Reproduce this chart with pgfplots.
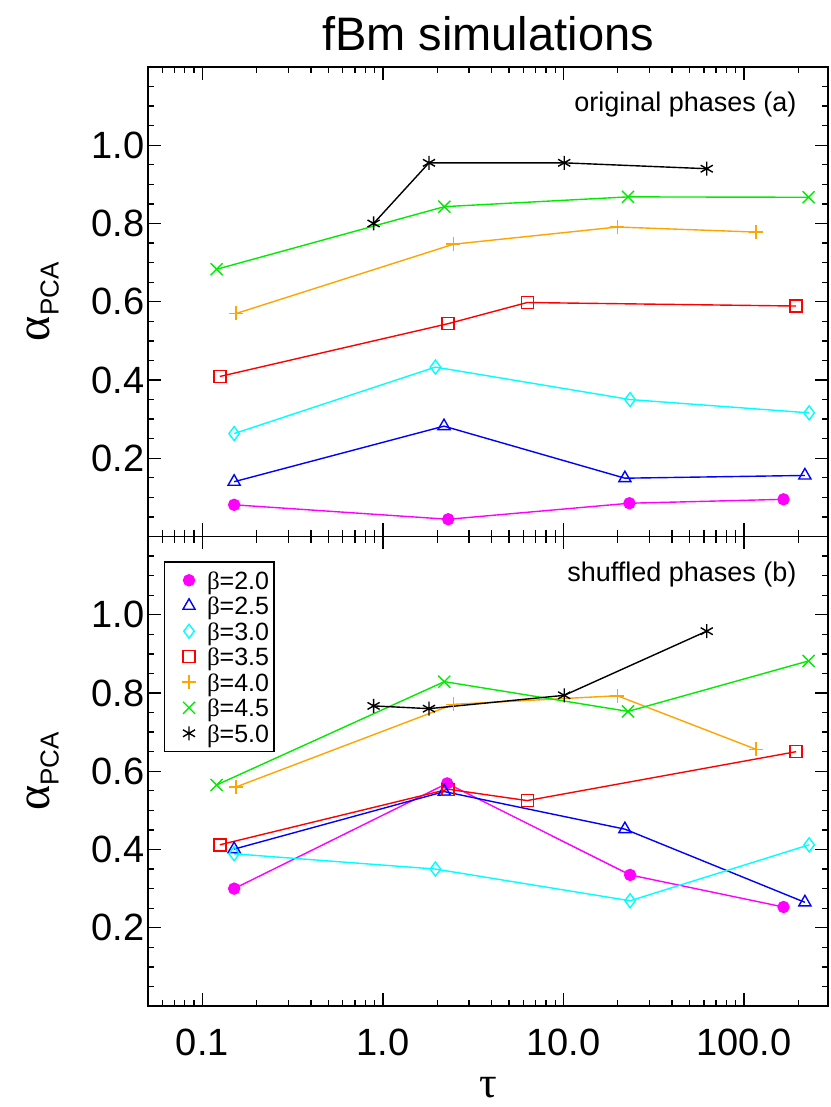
\documentclass[border=0pt]{standalone}
\usepackage{fontspec}
\setmainfont{Liberation Sans}
\newfontfamily\gr{Liberation Serif}
\usepackage{pgfplots}
\pgfplotsset{compat=1.18}
\definecolor{cMag}{RGB}{255,0,255}
\definecolor{cBlue}{RGB}{0,0,255}
\definecolor{cCyan}{RGB}{0,255,255}
\definecolor{cRed}{RGB}{255,0,0}
\definecolor{cOrange}{RGB}{255,165,0}
\definecolor{cGreen}{RGB}{0,235,0}

\begin{document}
\begin{tikzpicture}
\path[use as bounding box] (-148pt,-101pt) rectangle (682pt,1006pt);
\node[font=\fontsize{47}{47}\selectfont] at (340pt,972pt) {fBm simulations};

% top panel
\begin{axis}[
    at={(0pt,469.5pt)},
    scale only axis, width=680pt, height=469.5pt,
    xmode=log, xmin=0.05, xmax=292, ymin=0, ymax=1.2,
    xtick={0.1,1,10,100},
    xticklabels={},
    minor xtick={0.06,0.07,0.08,0.09,0.2,0.3,0.4,0.5,0.6,0.7,0.8,0.9,2,3,4,5,6,7,8,9,20,30,40,50,60,70,80,90,200},
    ytick={0.2,0.4,0.6,0.8,1.0},
    yticklabels={0.2,0.4,0.6,0.8,1.0},
    minor ytick={0.05,0.1,0.15,0.25,0.3,0.35,0.45,0.5,0.55,0.65,0.7,0.75,0.85,0.9,0.95,1.05,1.1,1.15},
    tick align=inside, major tick length=13pt, minor tick length=6.5pt,
    axis line style={line width=1.6pt},
    tick style={black, line width=1.3pt},
    tick label style={font=\fontsize{38}{38}\selectfont},
    ylabel style={at={(axis description cs:-0.1544,0.5)}, anchor=center},
    ylabel={{\gr\fontsize{48}{48}\selectfont α}\raisebox{-9pt}{\fontsize{26}{26}\selectfont PCA}},
    clip=false,
]
\addplot[cMag, mark=*, mark size=5.5pt, line width=1.4pt, mark options={solid}] coordinates {(0.150,0.081) (2.30,0.044) (23.2,0.085) (165.6,0.095)};
\addplot[cBlue, mark=triangle, mark size=7pt, line width=1.4pt, mark options={solid}] coordinates {(0.150,0.140) (2.18,0.282) (21.9,0.149) (217.5,0.156)};
\addplot[cCyan, mark=diamond, mark size=7pt, line width=1.4pt, mark options={solid}] coordinates {(0.150,0.263) (1.955,0.433) (23.4,0.350) (229.6,0.316)};
\addplot[cRed, mark=square, mark size=6pt, line width=1.4pt, mark options={solid}] coordinates {(0.125,0.409) (2.30,0.544) (6.30,0.598) (194.5,0.589)};
\addplot[cOrange, mark=+, mark size=7pt, line width=1.4pt, mark options={solid, line width=1.6pt}] coordinates {(0.154,0.570) (2.46,0.747) (19.9,0.791) (116.7,0.778)};
\addplot[cGreen, mark=x, mark size=8.5pt, line width=1.4pt, mark options={solid}] coordinates {(0.120,0.683) (2.19,0.843) (22.8,0.868) (228,0.867)};
\addplot[black, mark=asterisk, mark size=7pt, line width=1.4pt, mark options={solid}] coordinates {(0.888,0.800) (1.80,0.955) (10.1,0.955) (62.2,0.940)};
\node[anchor=east, inner sep=0pt, font=\fontsize{27}{27}\selectfont] at (rel axis cs:0.954,0.919) {original phases (a)};
\end{axis}

% bottom panel
\begin{axis}[
    at={(0pt,0pt)},
    scale only axis, width=680pt, height=469.5pt,
    xmode=log, xmin=0.05, xmax=292, ymin=0, ymax=1.2,
    xtick={0.1,1,10,100},
    xticklabels={0.1,1.0,10.0,100.0},
    minor xtick={0.06,0.07,0.08,0.09,0.2,0.3,0.4,0.5,0.6,0.7,0.8,0.9,2,3,4,5,6,7,8,9,20,30,40,50,60,70,80,90,200},
    ytick={0.2,0.4,0.6,0.8,1.0},
    yticklabels={0.2,0.4,0.6,0.8,1.0},
    minor ytick={0.05,0.1,0.15,0.25,0.3,0.35,0.45,0.5,0.55,0.65,0.7,0.75,0.85,0.9,0.95,1.05,1.1,1.15},
    tick align=inside, major tick length=13pt, minor tick length=6.5pt,
    axis line style={line width=1.6pt},
    tick style={black, line width=1.3pt},
    tick label style={font=\fontsize{38}{38}\selectfont},
    xticklabel style={anchor=center, yshift=-36pt},
    ylabel style={at={(axis description cs:-0.1544,0.5)}, anchor=center},
    ylabel={{\gr\fontsize{48}{48}\selectfont α}\raisebox{-9pt}{\fontsize{26}{26}\selectfont PCA}},
    xlabel style={at={(axis description cs:0.5,-0.1747)}, anchor=center},
    xlabel={{\gr\fontsize{44}{44}\selectfont τ}},
    clip=false,
    legend style={at={(axis description cs:0.0235,0.947)}, anchor=north west,
      font=\fontsize{25}{25}\selectfont, draw=black, line width=1.3pt,
      inner xsep=4pt, inner ysep=6pt, row sep=1pt, column sep=0pt,
      nodes={inner sep=1pt, text height=20.25pt, text depth=2.25pt}},
    legend cell align=left,
    legend image code/.code={\path (0pt,0pt) (36pt,0pt); \draw[#1, only marks] plot coordinates {(19.7pt,0pt)};},
]
\addplot[cMag, mark=*, mark size=5.5pt, line width=1.4pt, mark options={solid}] coordinates {(0.150,0.300) (2.27,0.569) (23.4,0.335) (165.6,0.253)};
\addplot[cBlue, mark=triangle, mark size=7pt, line width=1.4pt, mark options={solid}] coordinates {(0.150,0.401) (2.19,0.548) (21.9,0.452) (217.5,0.265)};
\addplot[cCyan, mark=diamond, mark size=7pt, line width=1.4pt, mark options={solid}] coordinates {(0.150,0.389) (1.955,0.350) (23.4,0.269) (229.6,0.412)};
\addplot[cRed, mark=square, mark size=6pt, line width=1.4pt, mark options={solid}] coordinates {(0.125,0.412) (2.30,0.554) (6.30,0.525) (194.5,0.650)};
\addplot[cOrange, mark=+, mark size=7pt, line width=1.4pt, mark options={solid, line width=1.6pt}] coordinates {(0.154,0.560) (2.46,0.771) (19.9,0.793) (116.7,0.656)};
\addplot[cGreen, mark=x, mark size=8.5pt, line width=1.4pt, mark options={solid}] coordinates {(0.120,0.565) (2.19,0.829) (22.8,0.753) (228,0.882)};
\addplot[black, mark=asterisk, mark size=7pt, line width=1.4pt, mark options={solid}] coordinates {(0.888,0.767) (1.80,0.760) (10.1,0.794) (62.2,0.958)};
\legend{{\gr β}=2.0,{\gr β}=2.5,{\gr β}=3.0,{\gr β}=3.5,{\gr β}=4.0,{\gr β}=4.5,{\gr β}=5.0}
\node[anchor=east, inner sep=0pt, font=\fontsize{27}{27}\selectfont] at (rel axis cs:0.954,0.919) {shuffled phases (b)};
\end{axis}
\end{tikzpicture}
\end{document}
